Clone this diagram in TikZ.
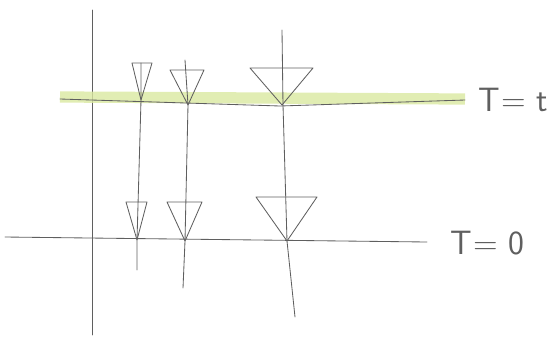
\documentclass[tikz,border=0pt]{standalone}
\usepackage{tikz}
\usetikzlibrary{calc}
\definecolor{Pencil}{RGB}{95,95,95}
\definecolor{Marker}{RGB}{218,232,160}

\tikzset{
  pencil/.style={draw=Pencil, line width=0.6pt, line cap=round},
  conebox/.style={pencil, line join=round},
  marker/.style={draw=Marker, line width=8pt, opacity=0.8},
  timelabel/.style={font=\sffamily\fontsize{24}{26}\selectfont, text=Pencil, inner sep=0pt, anchor=west}
}

\begin{document}
\begin{tikzpicture}[x=0.025cm, y=-0.025cm]
\useasboundingbox (0,0) rectangle (558,337);

% space axis
\coordinate (ytop) at (92,10);
\coordinate (ybot) at (92,335);
\draw[pencil] (ytop) -- (ybot);

% slice T=t
\coordinate (tl) at (60,99);
\coordinate (tm) at (280,106);
\coordinate (tr) at (465,100);
\draw[marker] (60,97) -- (465,99);
\draw[pencil] (tl) -- (tm) -- (tr);
\node[timelabel] (Tt) at (478,100) {T\kern1pt= t};

% slice T=0
\coordinate (zl) at (5,237);
\coordinate (zr) at (427,242);
\draw[pencil] (zl) -- (zr);
\node[timelabel] (T0) at (450,243) {T\kern1pt= 0};

% world lines
\coordinate (w1a) at (141,63);  \coordinate (w1b) at (137,270);
\coordinate (w2a) at (185,60);  \coordinate (w2b) at (183,288);
\coordinate (w3a) at (282,30);  \coordinate (w3b) at (295,317);
\draw[pencil] (w1a) -- (141,100) -- (137,240) -- (w1b);
\draw[pencil] (w2a) -- (188,105) -- (185,241) -- (w2b);
\draw[pencil] (w3a) -- (283,105) -- (287,241) -- (w3b);

% cones: name / apex / left top / right top
\foreach \name/\ax/\ay/\lx/\rx/\ty in {
    u1/141/100/132/152/63, u2/188/105/170/204/70, u3/282/105/250/313/68,
    l1/137/240/126/147/202, l2/185/241/167/202/202, l3/287/241/256/317/197}{
  \coordinate (\name-apex) at (\ax,\ay);
  \coordinate (\name-l) at (\lx,\ty);
  \coordinate (\name-r) at (\rx,\ty);
  \draw[conebox] (\name-l) -- (\name-apex) -- (\name-r) -- cycle;
}
\end{tikzpicture}
\end{document}
